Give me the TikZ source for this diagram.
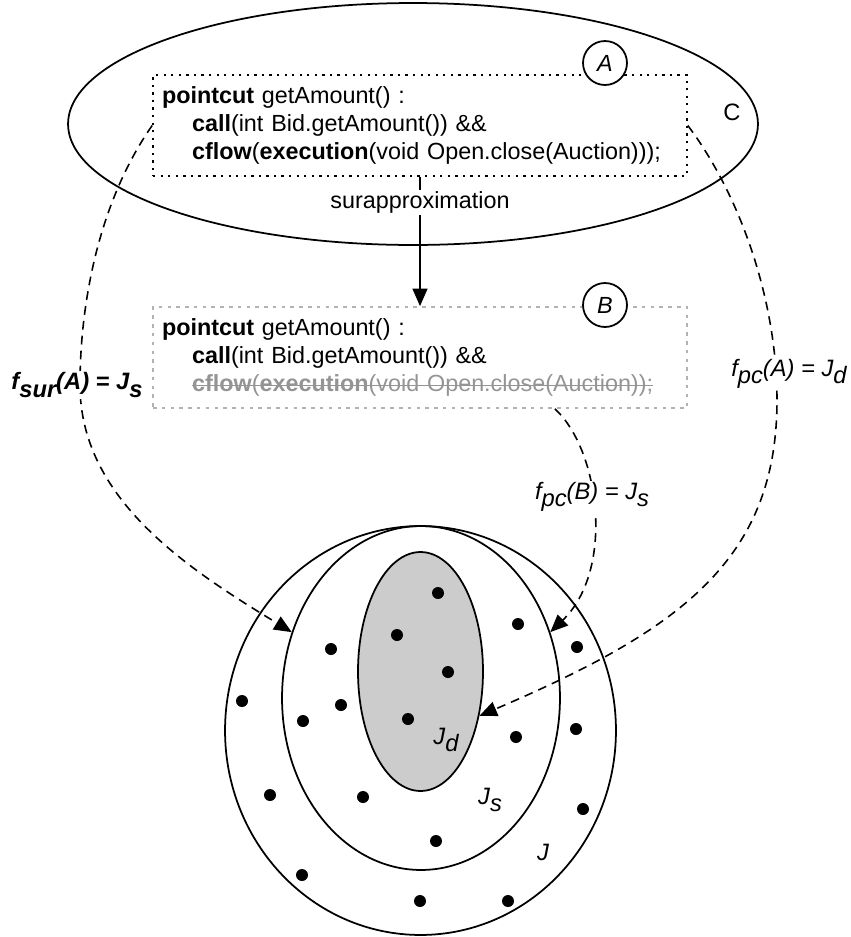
\documentclass[tikz,border=0pt]{standalone}
\usepackage{fontspec}
\setmainfont{Liberation Sans}
\usetikzlibrary{shapes.geometric,arrows.meta}

\newcommand{\low}[1]{\raisebox{-0.3em}{#1}}
\newsavebox{\strikebox}
\newcommand{\strikeout}[1]{\sbox{\strikebox}{#1}%
  \rlap{\usebox{\strikebox}}\rule[0.24em]{\wd\strikebox}{0.8pt}}

\begin{document}
\begin{tikzpicture}[%
    x=0.02cm, y=-0.02cm,                     % one unit = one pixel of the sketch, y going down
    >={Triangle[length=10pt,width=8.5pt]},   % filled heads everywhere
    line width=1pt,
    ]
% -------------------------------------------------
% Styles
\tikzset{
  pcbox/.style={rectangle, align=left, text width=10.32cm, minimum height=2.02cm,
    inner xsep=0.18cm, font=\fontsize{13.3}{16}\selectfont},
  tag/.style={draw, circle, fill=white, minimum size=0.88cm, inner sep=0pt,
    font=\fontsize{13.3}{16}\selectfont\itshape},
  set/.style={draw, ellipse, inner sep=0pt},
  dot/.style={fill=black},
  maparrow/.style={->, line width=0.9pt, dash pattern=on 5pt off 3.5pt},
  lbl/.style={fill=white, inner sep=1pt, font=\fontsize{13.5}{16}\selectfont\itshape},
}
\useasboundingbox (0,0) rectangle (851,937);
% -------------------------------------------------
% Pointcut A inside the set C
\node [set, minimum width=13.8cm, minimum height=4.84cm] (setC) at (413,124) {};
\node [font=\fontsize{13.5}{16}\selectfont] (nameC) at (732,112) {C};
\node [pcbox, draw, dash pattern=on 1.3pt off 3pt] (boxA) at (420,125.5)
  {\textbf{pointcut} getAmount() :\\
   \hspace*{0.6cm}\textbf{call}(int Bid.getAmount()) \&\&\\
   \hspace*{0.6cm}\textbf{cflow}(\textbf{execution}(void Open.close(Auction)));};
\node [tag] (circA) at (605,63) {A};

% Over-approximated pointcut B
\node [pcbox, draw=black!30, dash pattern=on 2pt off 3pt] (boxB) at (420,357.5)
  {\textbf{pointcut} getAmount() :\\
   \hspace*{0.6cm}\textbf{call}(int Bid.getAmount()) \&\&\\
   \hspace*{0.6cm}\textcolor{black!42}{\strikeout{\textbf{cflow}(\textbf{execution}(void Open.close(Auction))}\strikeout{;}}};
\node [tag] (circB) at (605,305) {B};

\draw [->] (boxA.south) -- node [lbl, font=\fontsize{13.3}{16}\selectfont, pos=0.2]
  {surapproximation} (boxB.north);
% -------------------------------------------------
% The sets of join points J, Js and Jd
\node [set, minimum width=7.82cm, minimum height=8.18cm] (setJ) at (420.5,730.5) {};
\node [set, minimum width=5.56cm, minimum height=6.88cm] (setJs) at (421,698) {};
\node [set, fill=black!20, minimum width=2.5cm, minimum height=4.78cm] (setJd) at (420.5,671.5) {};

\foreach \x/\y in {438/593, 397/635, 448/672, 408/719, 518/624, 577/647,
    331/649, 341/705, 303/721, 242/701, 516/737, 576/729, 270/795,
    363/797, 583/809, 436/841, 302/875, 420/901, 508/901}
  \fill [dot] (\x,\y) circle (0.12cm);

\node [font=\fontsize{13.5}{16}\selectfont\itshape] (nameJd) at (446,740) {J\low{d}};
\node [font=\fontsize{13.5}{16}\selectfont\itshape] (nameJs) at (490,800) {J\low{s}};
\node [font=\fontsize{13.5}{16}\selectfont\itshape] (nameJ) at (543,852) {J};
% -------------------------------------------------
% Mappings from pointcuts to join points
\coordinate (viaSur) at (80,385);
\coordinate (viaPcA) at (777,400);
\coordinate (outB) at ([xshift=-2.66cm]boxB.south east);

\draw [maparrow] (boxA.west) .. controls (100,200) and (80,300) .. (viaSur)
  .. controls (80,500) and (190,570) .. (setJs.153);
\draw [maparrow] (boxA.east) .. controls (740,195) and (777,300) .. (viaPcA)
  .. controls (777,560) and (680,630) .. (setJd.-37);
\draw [maparrow] (outB) .. controls (600,450) and (615,570) .. (setJs.27);

\node [lbl, font=\fontsize{13.5}{16}\selectfont\bfseries\itshape] (lblSur) at (77,385)
  {f\low{sur}(A) = J\low{s}};
\node [lbl] (lblPcA) at (789,374) {f\low{pc}(A) = J\low{d}};
\node [lbl] (lblPcB) at (592,497) {f\low{pc}(B) = J\low{s}};
% -------------------------------------------------
\end{tikzpicture}
\end{document}
